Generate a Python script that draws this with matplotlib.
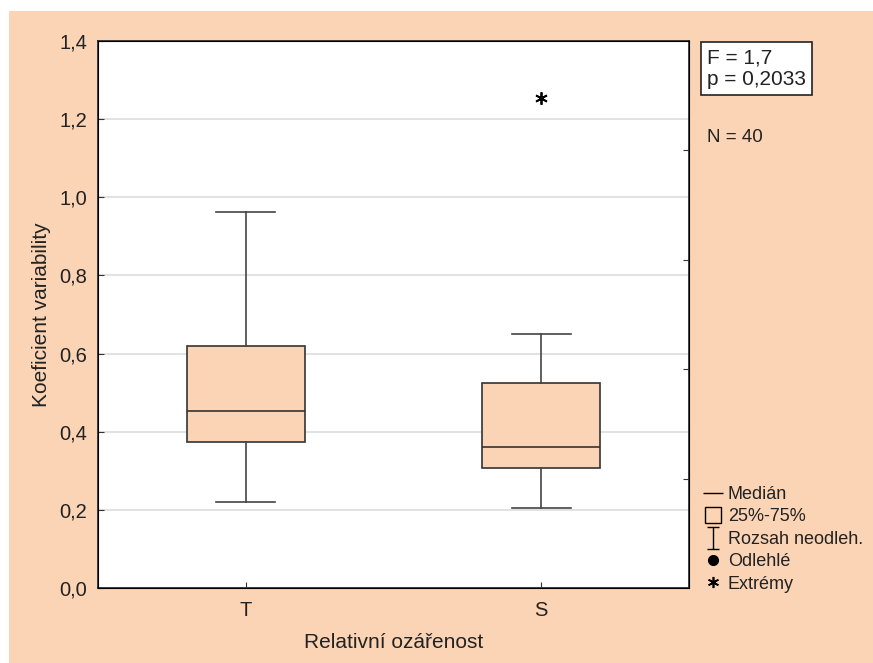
import matplotlib.pyplot as plt
import matplotlib.patches as mpatches
from matplotlib.lines import Line2D
from matplotlib.path import Path
import numpy as np

plt.rcParams['font.family'] = ['Liberation Sans', 'DejaVu Sans']

# data
skupiny = ['T', 'S']
whisk_lo = [0.221, 0.204]
q1 = [0.373, 0.308]
median = [0.453, 0.362]
q3 = [0.619, 0.524]
whisk_hi = [0.963, 0.650]
extremy_x = ['S']
extremy_y = [1.253]

peach = '#FAD4B5'
tc = '#222222'

fig = plt.figure(figsize=(8.73, 6.63), dpi=100)
fig.patch.set_facecolor('white')
fig.patches.append(mpatches.Rectangle((9 / 873, 0), 1, 1 - 11 / 663,
                                      transform=fig.transFigure,
                                      facecolor=peach, edgecolor='none', zorder=-10))

ax = fig.add_axes([98 / 873, 1 - 588 / 663, (689 - 98) / 873, (588 - 41) / 663])
ax.set_facecolor('white')

stats = []
for i in range(len(skupiny)):
    stats.append({'whislo': whisk_lo[i], 'q1': q1[i], 'med': median[i],
                  'q3': q3[i], 'whishi': whisk_hi[i], 'fliers': []})

ax.bxp(stats, positions=np.arange(len(skupiny)), widths=0.4, patch_artist=True,
       showfliers=False,
       boxprops=dict(facecolor=peach, edgecolor='#333333', linewidth=1.2),
       medianprops=dict(color='#333333', linewidth=1.2),
       whiskerprops=dict(color='#444444', linewidth=1.2),
       capprops=dict(color='#444444', linewidth=1.2), capwidths=0.2)

ex_pos = [skupiny.index(s) for s in extremy_x]
ax.plot(ex_pos, extremy_y, linestyle='none', marker=(6, 2, 0), markersize=9,
        color='black', markeredgewidth=1.3)

ax.set_xlim(-0.5, 1.5)
ax.set_ylim(0, 1.4)
yt = np.arange(0, 1.41, 0.2)
ax.set_yticks(yt)
ax.set_yticklabels([f'{v:.1f}'.replace('.', ',') for v in yt], fontsize=14.5, color=tc)
ax.set_xticks(np.arange(len(skupiny)))
ax.set_xticklabels(skupiny, fontsize=14.5, color=tc)
ax.tick_params(direction='in', length=4, color='#333333')
ax.tick_params(axis='x', pad=9)
ax.tick_params(axis='y', pad=8)
ax.yaxis.grid(True, color='#DDDDDD', linewidth=1.2)
ax.set_axisbelow(True)
for s in ax.spines.values():
    s.set_color(tc)
    s.set_linewidth(1.2)

ax2 = ax.twinx()
ax2.set_ylim(0, 1)
ax2.set_yticks([0.2, 0.4, 0.6, 0.8])
ax2.set_yticklabels([])
ax2.tick_params(direction='in', length=4, color='#333333')

ax.set_xlabel('Relativní ozářenost', fontsize=15, color=tc, labelpad=10)
ax.set_ylabel('Koeficient variability', fontsize=15, color=tc, labelpad=6)

fig.text(707 / 873, 1 - 68.5 / 663, 'F = 1,7\np = 0,2033', fontsize=15, color=tc,
         va='center', ha='left', linespacing=1.2,
         bbox=dict(facecolor='white', edgecolor=tc, boxstyle='square,pad=0.28', linewidth=1.2))
fig.text(707 / 873, 1 - 138 / 663, 'N = 40', fontsize=13.5, color=tc, va='center', ha='left')

# legend symbols
i_path = Path([(-0.5, 1), (0.5, 1), (0, 1), (0, -1), (-0.5, -1), (0.5, -1)],
              [Path.MOVETO, Path.LINETO, Path.MOVETO, Path.LINETO, Path.MOVETO, Path.LINETO])
handles = [
    Line2D([], [], linestyle='none', marker='_', markersize=14, color='black', markeredgewidth=1),
    Line2D([], [], linestyle='none', marker='s', markersize=12, markerfacecolor='none',
           markeredgecolor='black', markeredgewidth=1),
    Line2D([], [], linestyle='none', marker=i_path, markersize=16, color='black', markeredgewidth=1),
    Line2D([], [], linestyle='none', marker='o', markersize=7, color='black'),
    Line2D([], [], linestyle='none', marker=(6, 2, 0), markersize=8, color='black', markeredgewidth=1.2),
]
labels = ['Medián', '25%-75%', 'Rozsah neodleh.', 'Odlehlé', 'Extrémy']
fig.legend(handles, labels, loc='upper left', bbox_to_anchor=(707 / 873, 1 - 486 / 663),
           frameon=False, fontsize=13, handlelength=0.7, handletextpad=0.45,
           labelspacing=0.3, borderpad=0, borderaxespad=0, labelcolor=tc)

fig.savefig('out.png', dpi=100, facecolor=fig.get_facecolor())
